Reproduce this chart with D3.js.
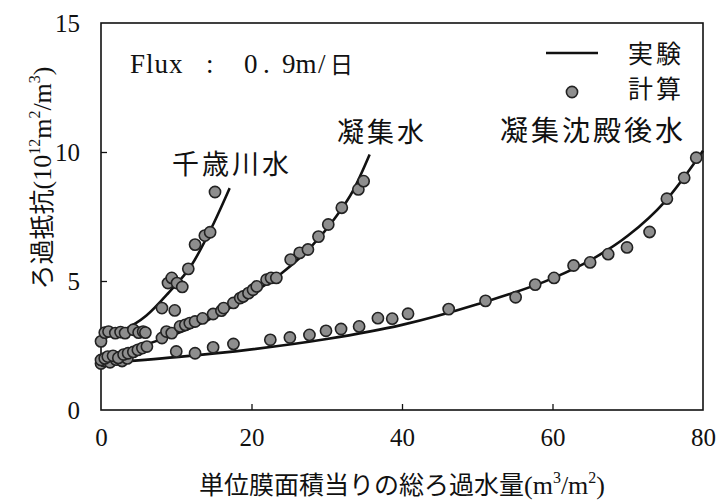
<!DOCTYPE html>
<html><head><meta charset="utf-8">
<script src="https://cdn.jsdelivr.net/npm/d3@7"></script>
<style>
html,body{margin:0;padding:0;background:#fff;}
svg{display:block;}
</style></head>
<body>
<script>
// ---- data ----
const xTicks = [0, 20, 40, 60, 80];
const yTicks = [0, 5, 10, 15];

// 千歳川水 calculated points
const chitosePts = [[0,2.66],[0.5,3.0],[1.0,3.04],[1.9,2.98],[2.6,3.02],[3.2,2.98],[4.3,3.11],[5.0,3.0],[5.6,3.04],[5.9,3.0],
  [8.1,3.95],[9.8,3.86],[8.9,4.92],[9.4,5.12],[10.1,4.92],[10.8,4.77],[11.6,5.47],[12.5,6.41],[13.8,6.76],[14.5,6.89],[15.15,8.45]];
// 千歳川水 experimental line
const chitoseLine = [[0,2.8],[3,3.1],[6,3.65],[9,4.55],[12,5.6],[15,7.25],[17.1,8.6]];

// 凝集水
const coagPts = [[0,1.94],[0.5,2.0],[0.9,2.07],[1.6,2.1],[2.3,2.02],[3.0,2.15],[3.6,2.2],[4.3,2.25],[4.9,2.33],[5.5,2.4],[6.1,2.46],
  [8.1,2.79],[8.7,3.04],[9.4,2.98],[10.5,3.24],[11.2,3.3],[11.8,3.37],[12.5,3.43],[13.5,3.55],[14.9,3.72],[16.0,3.85],[16.3,3.95],
  [17.6,4.15],[18.5,4.34],[18.9,4.4],[19.6,4.53],[20.2,4.66],[20.7,4.79],[22.0,5.05],[22.6,5.12],[23.3,5.12],[25.2,5.83],[26.4,6.09],
  [27.5,6.22],[28.9,6.72],[30.2,7.19],[32.0,7.84],[34.2,8.55],[34.9,8.87]];
const coagLine = [[0,2.05],[5,2.45],[10,2.95],[15,3.6],[20,4.5],[24,5.3],[28,6.35],[31,7.4],[33.5,8.5],[35.7,9.9]];

// 凝集沈殿後水
const sedPts = [[0,1.8],[0.4,1.9],[1.2,1.85],[2.0,1.95],[2.8,1.9],[3.5,2.0],[10.0,2.27],[12.5,2.2],[14.9,2.43],[17.6,2.56],
  [22.5,2.72],[25.1,2.81],[27.7,2.91],[29.9,3.07],[31.9,3.14],[34.3,3.24],[36.8,3.56],[38.7,3.54],[40.8,3.73],[46.2,3.91],
  [51.1,4.23],[55.1,4.37],[57.7,4.86],[60.2,5.12],[62.8,5.6],[65.0,5.72],[67.4,6.04],[69.9,6.3],[72.9,6.9],[75.2,8.19],[77.5,9.0],[79.1,9.78]];
const sedLine = [[0,1.82],[10,2.05],[20,2.35],[30,2.75],[40,3.3],[50,4.1],[60,5.1],[65,5.8],[70,6.75],[75,8.1],[80,10.05]];

const W = 716, H = 502;
const svg = d3.select("body").append("svg").attr("width", W).attr("height", H);

const mL = 101, mR = 703, mT = 23, mB = 410;
const x = d3.scaleLinear().domain([0, 80]).range([mL, mR]);
const y = d3.scaleLinear().domain([0, 15]).range([mB, mT]);

const serif = "'Liberation Serif','DejaVu Serif',serif";
const cjk = "'Noto Sans CJK JP','Noto Sans CJK SC',sans-serif";

// frame
svg.append("rect").attr("x", mL).attr("y", mT).attr("width", mR-mL).attr("height", mB-mT)
  .attr("fill","none").attr("stroke","#111").attr("stroke-width",1.6);

// axes (ticks inside)
const xAxis = d3.axisBottom(x).tickValues(xTicks).tickSize(-6).tickPadding(22).tickFormat(d3.format("d"));
const gx = svg.append("g").attr("transform",`translate(0,${mB})`).call(xAxis);
gx.select(".domain").remove();
gx.selectAll(".tick line").attr("stroke","#111").attr("stroke-width",1.3).filter(d=>d===0||d===80).remove();
gx.selectAll("text").attr("font-family",serif).attr("font-size",25).attr("fill","#111").attr("dy","0.55em");

const yAxis = d3.axisLeft(y).tickValues(yTicks).tickSize(-6).tickPadding(21).tickFormat(d3.format("d"));
const gy = svg.append("g").attr("transform",`translate(${mL},0)`).call(yAxis);
gy.select(".domain").remove();
gy.selectAll(".tick line").attr("stroke","#111").attr("stroke-width",1.3).filter(d=>d===0||d===15).remove();
gy.selectAll("text").attr("font-family",serif).attr("font-size",25).attr("fill","#111").attr("dy","0.35em");

// lines
const line = d3.line().x(d=>x(d[0])).y(d=>y(d[1])).curve(d3.curveMonotoneX);
[chitoseLine, coagLine, sedLine].forEach(L=>{
  svg.append("path").attr("d", line(L)).attr("fill","none").attr("stroke","#111").attr("stroke-width",2.6);
});

// points
const drawPts = (pts)=>{
  svg.append("g").selectAll("circle").data(pts).join("circle")
    .attr("cx", d=>x(d[0])).attr("cy", d=>y(d[1])).attr("r",5.6)
    .attr("fill","#8e8e8e").attr("stroke","#222").attr("stroke-width",1.6);
};
drawPts(sedPts); drawPts(coagPts); drawPts(chitosePts);

// annotation: Flux
const ft = svg.append("text").attr("y",73).attr("font-family",serif).attr("font-size",27).attr("fill","#111");
ft.append("tspan").attr("x",130).attr("letter-spacing",1).text("Flux");
ft.append("tspan").attr("x",206).text(":");
ft.append("tspan").attr("x",244).text("0");
ft.append("tspan").attr("x",263).text(".");
ft.append("tspan").attr("x",282).text("9m");
ft.append("tspan").attr("x",318).text("/");
ft.append("tspan").attr("x",330).attr("font-family",cjk).attr("font-size",23).text("日");

const lab = (t, xx, yy, fs)=> svg.append("text").attr("x",xx).attr("y",yy).attr("font-family",cjk).attr("font-size",fs)
  .attr("fill","#111").attr("letter-spacing",3).text(t);
lab("千歳川水", 172, 174, 27);
lab("凝集水", 337, 142, 27);
lab("凝集沈殿後水", 500, 141, 28);
lab("実験", 628, 63, 25);
lab("計算", 628, 98, 25);

// legend marks
svg.append("line").attr("x1",546).attr("x2",598).attr("y1",53).attr("y2",53).attr("stroke","#111").attr("stroke-width",2.4);
svg.append("circle").attr("cx",572).attr("cy",92).attr("r",5.6).attr("fill","#8e8e8e").attr("stroke","#222").attr("stroke-width",1.6);

// x title
const xt = svg.append("text").attr("x",(mL+mR)/2).attr("y",494).attr("text-anchor","middle")
  .attr("font-size",26).attr("fill","#111");
xt.append("tspan").attr("font-family",cjk).attr("font-size",25).text("単位膜面積当りの総ろ過水量");
xt.append("tspan").attr("font-family",serif).text("(m");
xt.append("tspan").attr("font-family",serif).attr("font-size",16).attr("dy",-11).text("3");
xt.append("tspan").attr("font-family",serif).attr("dy",11).text("/m");
xt.append("tspan").attr("font-family",serif).attr("font-size",16).attr("dy",-11).text("2");
xt.append("tspan").attr("font-family",serif).attr("dy",11).text(")");

// y title
const yt = svg.append("text").attr("transform","translate(51,178) rotate(-90)").attr("text-anchor","middle")
  .attr("font-size",26).attr("fill","#111");
yt.append("tspan").attr("font-family",cjk).attr("font-size",25).text("ろ過抵抗");
yt.append("tspan").attr("font-family",serif).text("(10");
yt.append("tspan").attr("font-family",serif).attr("font-size",16).attr("dy",-11).text("12");
yt.append("tspan").attr("font-family",serif).attr("dy",11).text("m");
yt.append("tspan").attr("font-family",serif).attr("font-size",16).attr("dy",-11).text("2");
yt.append("tspan").attr("font-family",serif).attr("dy",11).text("/m");
yt.append("tspan").attr("font-family",serif).attr("font-size",16).attr("dy",-11).text("3");
yt.append("tspan").attr("font-family",serif).attr("dy",11).text(")");
</script>
</body></html>
